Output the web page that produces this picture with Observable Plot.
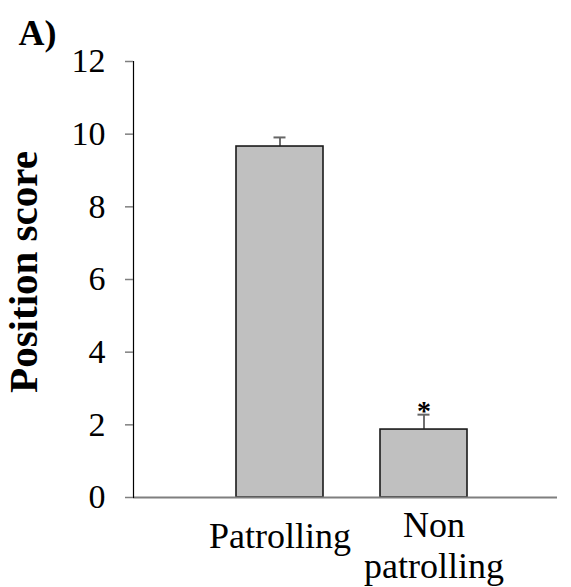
<!DOCTYPE html>
<html>
<head>
<meta charset="utf-8">
<script src="https://cdn.jsdelivr.net/npm/d3@7"></script>
<script src="https://cdn.jsdelivr.net/npm/@observablehq/plot@0.6"></script>
<style>
  html, body { margin: 0; padding: 0; background: #fff; }
  #chart svg { display: block; background: #fff; }
</style>
</head>
<body>
<div id="chart"></div>
<script>
// Position score by group (mean ± SE)
const groups = ["Patrolling", "Non patrolling"];
const means = [9.66, 1.87];
const errors = [0.25, 0.41];
const significance = ["", "*"];
const yTicks = [0, 2, 4, 6, 8, 10, 12];
const panelLabel = "A)";
const yLabel = "Position score";

const data = groups.map((g, i) => ({
  group: g,
  mean: means[i],
  se: errors[i],
  sig: significance[i]
}));

const serif = "'Liberation Serif', 'Times New Roman', serif";

const chart = Plot.plot({
  width: 571,
  height: 587,
  marginLeft: 133,
  marginRight: 14,
  marginTop: 61,
  marginBottom: 90,
  style: { fontFamily: serif, color: "black", background: "white" },
  x: {
    domain: groups,
    range: [206.5, 496.5],
    paddingInner: 0.393,
    paddingOuter: 0.1966,
    align: 0.5,
    axis: null
  },
  y: { domain: [0, 12], axis: null },
  marks: [
    Plot.barY(data, {
      x: "group", y: "mean",
      fill: "#c0c0c0", stroke: "#1a1a1a", strokeWidth: 1.6
    }),
    Plot.ruleX(data, {
      x: "group", y1: "mean", y2: d => d.mean + d.se,
      stroke: "#222", strokeWidth: 1.3
    }),
    Plot.tickY(data, {
      x: "group", y: d => d.mean + d.se,
      insetLeft: 37.5, insetRight: 37.5,
      stroke: "#666", strokeWidth: 2
    }),
    Plot.text(data.filter(d => d.sig), {
      x: "group", y: d => d.mean + d.se, text: "sig",
      fontSize: 28, fontWeight: "bold", lineAnchor: "middle", dy: -4,
      fill: "black"
    }),
    // axes
    Plot.ruleY([0], { stroke: "#7f7f7f", strokeWidth: 2 }),
    Plot.frame({ anchor: "left", stroke: "black", strokeWidth: 1.2 }),
    Plot.axisY(yTicks, {
      tickSize: 8, tickPadding: 20, fontSize: 34,
      stroke: "#7f7f7f", strokeWidth: 1.5,
      tickFormat: d => String(d), label: null
    }),
    Plot.axisX([groups[0]], {
      tickSize: 0, tickPadding: 25, fontSize: 36, label: null
    }),
    Plot.axisX([groups[1]], {
      tickSize: 0, tickPadding: 10, fontSize: 36, lineHeight: 1.15, dx: 10,
      tickFormat: d => d.replace(" ", "\n"), label: null
    }),
    Plot.text([yLabel], {
      frameAnchor: "left", text: d => d, rotate: -90, textAnchor: "middle",
      fontSize: 41, fontWeight: "bold", lineAnchor: "middle",
      dx: -110, dy: -7.5, fill: "black"
    }),
    Plot.text([panelLabel], {
      frameAnchor: "top-left", text: d => d, textAnchor: "start",
      fontSize: 36, fontWeight: "bold", lineAnchor: "middle",
      dx: -115, dy: -28.5, fill: "black"
    })
  ]
});

document.getElementById("chart").appendChild(chart);
</script>
</body>
</html>
